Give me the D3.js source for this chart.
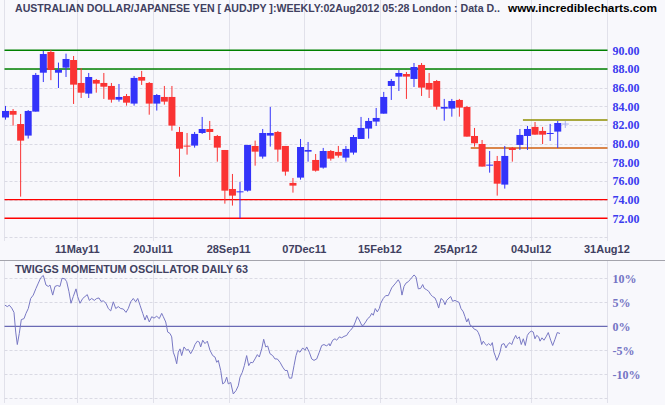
<!DOCTYPE html>
<html><head><meta charset="utf-8">
<script src="https://cdn.jsdelivr.net/npm/d3@7"></script>
<style>html,body{margin:0;padding:0;background:#f8f8fc;} svg{display:block;}</style>
</head><body><svg id="c" width="665" height="405"></svg>
<script>
// ---------- DATA ----------
const titleText = "AUSTRALIAN DOLLAR/JAPANESE YEN [ AUDJPY ]:WEEKLY:02Aug2012 05:28 London : Data D..";
const siteText = "www.incrediblecharts.com";
const oscTitle = "TWIGGS MOMENTUM OSCILLATOR DAILY 63";

const opens  = [82.8,83.5,82.1,80.86,83.43,87.6,89.82,87.6,88.14,88.96,86.5,85.36,86.82,86.5,86.18,84.71,85.1,84.29,87.14,86.5,84.29,85.0,85.0,81.25,79.79,79.79,81.14,81.57,80.82,79.32,75.14,74.79,74.96,79.75,78.61,80.86,81.25,79.75,75.79,76.36,79.14,78.25,77.43,79.21,79.11,78.5,79.04,80.5,81.61,82.36,83.21,86.18,87.18,87.46,86.93,88.43,86.5,86.71,83.75,83.75,84.68,83.93,80.82,79.96,77.64,78.14,75.61,79.54,79.86,80.82,81.79,81.36,81.04,81.29,82.1];
const highs  = [84.04,83.71,83.18,83.6,87.57,89.93,90.04,88.68,89.64,89.39,88.1,87.57,86.93,87.57,86.5,86.39,85.32,87.25,87.79,86.6,85.32,86.18,86.18,81.79,81.14,81.25,82.86,82.43,80.93,79.32,76.75,75.89,79.86,80.32,81.57,83.93,81.36,79.75,76.32,80.5,80.18,78.89,79.54,79.32,79.75,79.75,80.93,82.86,82.75,83.82,85.54,86.93,87.89,87.68,88.64,88.64,87.57,86.82,84.79,84.79,84.79,84.04,81.68,80.39,79.21,78.68,79.75,79.64,81.57,81.89,82.32,81.79,82.11,82.43,82.43];
const lows   = [82.57,81.93,74.32,80.54,83.43,86.6,86.8,85.96,87.14,84.25,84.89,84.89,85.46,84.79,84.39,84.5,84.07,84.07,86.29,83.1,83.54,84.18,81.39,76.46,78.82,79.57,81.04,80.39,78.07,73.57,73.36,72.0,74.86,77.64,78.39,79.68,78.07,76.57,74.75,76.14,78.07,77.0,77.32,78.18,78.5,78.07,78.82,80.5,80.54,81.89,83.21,84.68,85.64,84.79,86.07,85.11,84.89,83.64,82.46,82.89,82.89,80.75,79.68,77.54,76.89,74.43,75.18,78.07,79.32,79.32,80.96,79.96,80.29,79.54,81.68];
const closes = [83.5,83.1,80.32,83.5,87.36,89.6,87.9,87.9,89.07,86.32,85.46,87.14,86.43,86.1,84.71,85.0,84.39,87.04,86.75,84.29,85.21,84.5,81.93,79.46,79.68,81.04,81.57,81.25,79.57,74.96,74.43,74.89,79.86,79.14,81.14,81.14,79.36,77.0,75.5,79.64,79.32,77.1,79.21,78.39,78.71,79.43,80.71,81.68,82.43,82.75,85.0,86.71,87.57,87.18,88.21,86.0,85.79,83.96,83.93,84.57,83.86,80.75,80.04,77.54,77.75,75.71,78.68,79.32,80.93,81.57,80.96,80.96,81.14,82.21,82.1];

const priceTicks = [72,74,76,78,80,82,84,86,88,90];
const priceGrid  = [70,72,74,76,78,80,82,84,86,88];
const dateTicks  = [9.5,19.5,29.5,39.5,49.5,59.5,69.5,79.5];
const dateLabels = ["11May11","20Jul11","28Sep11","07Dec11","15Feb12","25Apr12","04Jul12","31Aug12"];

// horizontal level lines: [value, startWeek]
const greenLevels = [90, 88];
const redLevels   = [74, 72];
const oliveLevel  = [82.53, 68.4];
const orangeLevel = [79.53, 61.5];

const oscTicks  = [10,5,0,-5,-10];
const oscLabels = ["10%","5%","0%","-5%","-10%"];
const oscGrid   = [10,5,-5,-10,-15];
// [week position, oscillator %]
const osc = [[-0.07,4.4],[0.24,4.1],[0.50,4.4],[0.82,3.8],[1.12,2.9],[1.35,-1.2],[1.56,-3.8],[1.82,-1.5],[2.09,1.4],[2.45,1.6],[2.71,2.7],[3.01,3.7],[3.33,5.8],[3.67,6.5],[4.03,7.9],[4.34,9.0],[4.65,10.1],[5.00,10.6],[5.35,8.6],[5.66,8.3],[5.88,8.6],[6.24,6.5],[6.54,8.3],[6.85,8.5],[7.20,8.3],[7.47,10.0],[7.83,9.9],[8.09,9.3],[8.39,7.2],[8.66,4.8],[8.96,6.2],[9.32,7.8],[9.54,6.2],[9.85,4.8],[10.21,5.8],[10.51,6.2],[10.81,6.6],[11.08,5.4],[11.39,5.8],[11.74,5.4],[12.06,5.8],[12.36,5.9],[12.62,5.2],[12.93,5.3],[13.28,4.8],[13.59,3.7],[13.91,3.2],[14.25,5.1],[14.57,3.7],[14.91,4.1],[15.23,3.7],[15.57,3.6],[15.93,2.9],[16.23,3.7],[16.55,5.1],[16.89,5.8],[17.21,5.1],[17.48,5.8],[17.78,4.4],[18.14,2.7],[18.44,1.3],[18.67,2.3],[19.01,0.9],[19.33,2.0],[19.63,1.7],[19.99,2.1],[20.33,1.6],[20.65,2.7],[20.86,2.0],[21.18,0.9],[21.44,-1.2],[21.75,-1.5],[21.97,-2.2],[22.18,-5.4],[22.41,-6.4],[22.63,-7.8],[22.84,-5.4],[23.07,-4.7],[23.29,-6.1],[23.60,-4.3],[23.95,-5.0],[24.16,-4.8],[24.48,-5.7],[24.83,-4.7],[25.05,-3.8],[25.35,-3.1],[25.62,-3.3],[25.80,-4.3],[26.07,-2.9],[26.37,-3.6],[26.68,-3.1],[27.03,-5.0],[27.39,-6.1],[27.69,-6.4],[27.92,-7.5],[28.13,-7.1],[28.45,-9.2],[28.71,-12.0],[28.98,-11.7],[29.24,-10.6],[29.45,-12.0],[29.77,-11.7],[30.11,-14.1],[30.47,-13.4],[30.77,-12.4],[31.00,-10.6],[31.30,-9.6],[31.57,-8.2],[31.88,-6.1],[32.15,-8.2],[32.41,-7.5],[32.68,-7.6],[32.98,-6.8],[33.29,-5.9],[33.55,-6.4],[33.87,-4.7],[34.13,-2.7],[34.40,-4.3],[34.66,-4.1],[34.96,-5.7],[35.32,-6.1],[35.62,-6.8],[35.93,-6.8],[36.29,-7.5],[36.64,-8.5],[36.95,-9.2],[37.25,-9.2],[37.52,-10.8],[37.83,-10.8],[38.14,-8.2],[38.40,-6.1],[38.63,-5.0],[38.93,-5.4],[39.29,-4.5],[39.59,-5.0],[39.82,-4.3],[40.16,-5.4],[40.48,-6.8],[40.78,-7.1],[41.14,-6.8],[41.48,-5.4],[41.80,-4.0],[42.10,-3.8],[42.46,-4.1],[42.76,-3.6],[42.90,-4.1],[43.25,-2.9],[43.56,-2.6],[43.78,-2.9],[44.13,-2.2],[44.44,-2.4],[44.75,-2.1],[45.10,-1.9],[45.37,-1.2],[45.63,-0.8],[45.98,-0.1],[46.24,0.9],[46.50,2.0],[46.77,1.3],[47.09,0.2],[47.30,0.2],[47.61,0.9],[47.88,1.6],[48.18,2.0],[48.41,2.7],[48.62,2.3],[48.88,3.7],[49.15,3.0],[49.41,3.7],[49.60,4.8],[49.94,5.8],[50.26,6.4],[50.60,6.4],[50.83,7.2],[51.05,8.0],[51.36,8.6],[51.58,9.0],[51.92,9.7],[52.15,9.0],[52.41,6.5],[52.68,8.3],[52.94,9.0],[53.25,9.3],[53.47,9.7],[53.69,10.1],[54.00,10.7],[54.26,10.3],[54.57,7.8],[54.88,7.9],[55.15,8.7],[55.36,7.9],[55.68,7.6],[55.94,7.3],[56.21,6.6],[56.47,6.2],[56.78,5.9],[57.00,5.1],[57.26,3.8],[57.57,5.8],[57.87,5.4],[58.10,4.5],[58.32,5.4],[58.63,5.9],[58.85,6.2],[59.11,5.2],[59.42,5.4],[59.64,5.2],[59.95,5.0],[60.21,3.7],[60.52,3.0],[60.74,2.0],[60.97,0.9],[61.18,1.6],[61.40,0.3],[61.71,-0.1],[61.97,-0.6],[62.29,-0.8],[62.50,-1.3],[62.72,-2.2],[62.95,-3.8],[63.16,-3.1],[63.38,-3.6],[63.61,-4.0],[63.87,-3.6],[64.14,-4.0],[64.35,-3.4],[64.57,-5.4],[64.80,-6.4],[64.93,-7.1],[65.14,-6.4],[65.37,-5.4],[65.59,-3.8],[65.90,-3.6],[66.16,-4.5],[66.39,-3.8],[66.69,-3.4],[66.92,-3.8],[67.13,-2.9],[67.44,-1.9],[67.65,-2.6],[67.92,-2.2],[68.18,-3.8],[68.45,-2.6],[68.71,-4.0],[68.98,-1.9],[69.24,-1.3],[69.51,-1.0],[69.77,-1.2],[69.99,-2.6],[70.22,-1.9],[70.48,-2.2],[70.66,-3.1],[70.92,-2.4],[71.18,-2.9],[71.45,-2.2],[71.75,-1.3],[72.07,-2.9],[72.33,-4.0],[72.64,-2.7],[72.94,-1.3],[73.30,-1.5]];

// ---------- LAYOUT ----------
const svg = d3.select("#c");
const L = 4.5, R = 607.5;
const mainTop = 0, mainBot = 241;
const oscTop = 261, oscBot = 403;

const x = d3.scaleLinear().domain([0, 79.5]).range([5.5, 606.9]);
const y = d3.scaleLinear().domain([72, 90]).range([218.3, 50.3]);
const yo = d3.scaleLinear().domain([-10, 10]).range([374.3, 278.3]);

const gridCol = "#e1e1ea";
const sansBold = "'Liberation Sans', Arial, sans-serif";
const serifBold = "'Liberation Serif', 'Times New Roman', serif";

svg.append("rect").attr("width", 665).attr("height", 405).attr("fill", "#f8f8fc");

// vertical grid lines
const vg = svg.append("g").attr("stroke", gridCol).attr("stroke-width", 1);
dateTicks.forEach(t => {
  vg.append("line").attr("x1", Math.round(x(t)) + 0.5).attr("x2", Math.round(x(t)) + 0.5).attr("y1", mainTop).attr("y2", mainBot);
  vg.append("line").attr("x1", Math.round(x(t)) + 0.5).attr("x2", Math.round(x(t)) + 0.5).attr("y1", oscTop).attr("y2", oscBot);
});
[L, R].forEach(px => {
  vg.append("line").attr("x1", px).attr("x2", px).attr("y1", mainTop).attr("y2", mainBot);
  vg.append("line").attr("x1", px).attr("x2", px).attr("y1", oscTop).attr("y2", oscBot);
});

// horizontal dashed grid (main)
const hg = svg.append("g").attr("stroke", "#dadae4").attr("stroke-width", 1).attr("stroke-dasharray", "3,2");
priceGrid.forEach(v => {
  const yy = Math.round(y(v)) + 0.5;
  hg.append("line").attr("x1", L).attr("x2", R).attr("y1", yy).attr("y2", yy);
});
oscGrid.forEach(v => {
  const yy = Math.round(yo(v)) + 0.5;
  hg.append("line").attr("x1", L).attr("x2", R).attr("y1", yy).attr("y2", yy);
});

// separator line between panels
svg.append("line").attr("x1", 0).attr("x2", 665).attr("y1", 260.5).attr("y2", 260.5)
  .attr("stroke", "#a4a4ac").attr("stroke-width", 1.2);

// level lines
greenLevels.forEach(v => {
  svg.append("line").attr("x1", L).attr("x2", R).attr("y1", y(v)).attr("y2", y(v))
    .attr("stroke", "#008000").attr("stroke-width", 1.4);
});
redLevels.forEach(v => {
  svg.append("line").attr("x1", L).attr("x2", R).attr("y1", y(v)).attr("y2", y(v))
    .attr("stroke", "#ff0000").attr("stroke-width", 1.4);
});
svg.append("line").attr("x1", x(oliveLevel[1])).attr("x2", R).attr("y1", y(oliveLevel[0])).attr("y2", y(oliveLevel[0]))
  .attr("stroke", "#8f8f00").attr("stroke-width", 1.4);
svg.append("line").attr("x1", x(orangeLevel[1])).attr("x2", R).attr("y1", y(orangeLevel[0])).attr("y2", y(orangeLevel[0]))
  .attr("stroke", "#d06010").attr("stroke-width", 1.4);

// candles
const cg = svg.append("g");
const n = opens.length;
opens.forEach((o, i) => {
  const c = closes[i], h = highs[i], l = lows[i];
  const cx = x(i);
  if (i === n - 1) {
    const col = "#a8aef0";
    cg.append("line").attr("x1", cx).attr("x2", cx).attr("y1", y(h)).attr("y2", y(l)).attr("stroke", col).attr("stroke-width", 1);
    cg.append("line").attr("x1", cx - 3.5).attr("x2", cx + 3.5).attr("y1", y(c)).attr("y2", y(c)).attr("stroke", col).attr("stroke-width", 1);
    return;
  }
  const col = c >= o ? "#3333fa" : "#fa3333";
  cg.append("line").attr("x1", cx).attr("x2", cx).attr("y1", y(h)).attr("y2", y(l)).attr("stroke", col).attr("stroke-width", 1);
  const top = y(Math.max(o, c)), bot = y(Math.min(o, c));
  cg.append("rect").attr("x", cx - 3.5).attr("width", 7).attr("y", top).attr("height", Math.max(1, bot - top)).attr("fill", col);
});

// oscillator zero line and curve
svg.append("line").attr("x1", L).attr("x2", R).attr("y1", yo(0)).attr("y2", yo(0))
  .attr("stroke", "#6a6ab4").attr("stroke-width", 1.2);
svg.append("path").datum(osc)
  .attr("d", d3.line().x(d => x(d[0])).y(d => yo(d[1])))
  .attr("fill", "none").attr("stroke", "#7878c4").attr("stroke-width", 1);

// texts
svg.append("text").attr("x", 15).attr("y", 12.2).text(titleText)
  .attr("font-family", sansBold).attr("font-weight", "bold").attr("font-size", 11)
  .attr("fill", "#404060").attr("textLength", 485).attr("lengthAdjust", "spacingAndGlyphs");
svg.append("text").attr("x", 508).attr("y", 12.2).text(siteText)
  .attr("font-family", sansBold).attr("font-weight", "bold").attr("font-size", 11)
  .attr("fill", "#000000").attr("textLength", 149).attr("lengthAdjust", "spacingAndGlyphs");
svg.append("text").attr("x", 15).attr("y", 273.3).text(oscTitle)
  .attr("font-family", sansBold).attr("font-weight", "bold").attr("font-size", 11.5)
  .attr("fill", "#404060").attr("textLength", 233).attr("lengthAdjust", "spacingAndGlyphs");

const pt = svg.append("g").attr("font-family", serifBold).attr("font-weight", "bold").attr("font-size", 12).attr("fill", "#3b3bef");
priceTicks.forEach(v => {
  pt.append("text").attr("x", 612.5).attr("y", y(v)).attr("dy", "0.36em").text(v.toFixed(2));
});
const ot = svg.append("g").attr("font-family", serifBold).attr("font-weight", "bold").attr("font-size", 12).attr("fill", "#7474c4");
oscTicks.forEach((v, i) => {
  ot.append("text").attr("x", 612.5).attr("y", yo(v)).attr("dy", "0.36em").text(oscLabels[i]);
});
const xt = svg.append("g").attr("font-family", sansBold).attr("font-weight", "bold").attr("font-size", 11).attr("fill", "#404060").attr("text-anchor", "middle");
dateTicks.forEach((t, i) => {
  xt.append("text").attr("x", x(t)).attr("y", 252.7).text(dateLabels[i]);
});
</script></body></html>
